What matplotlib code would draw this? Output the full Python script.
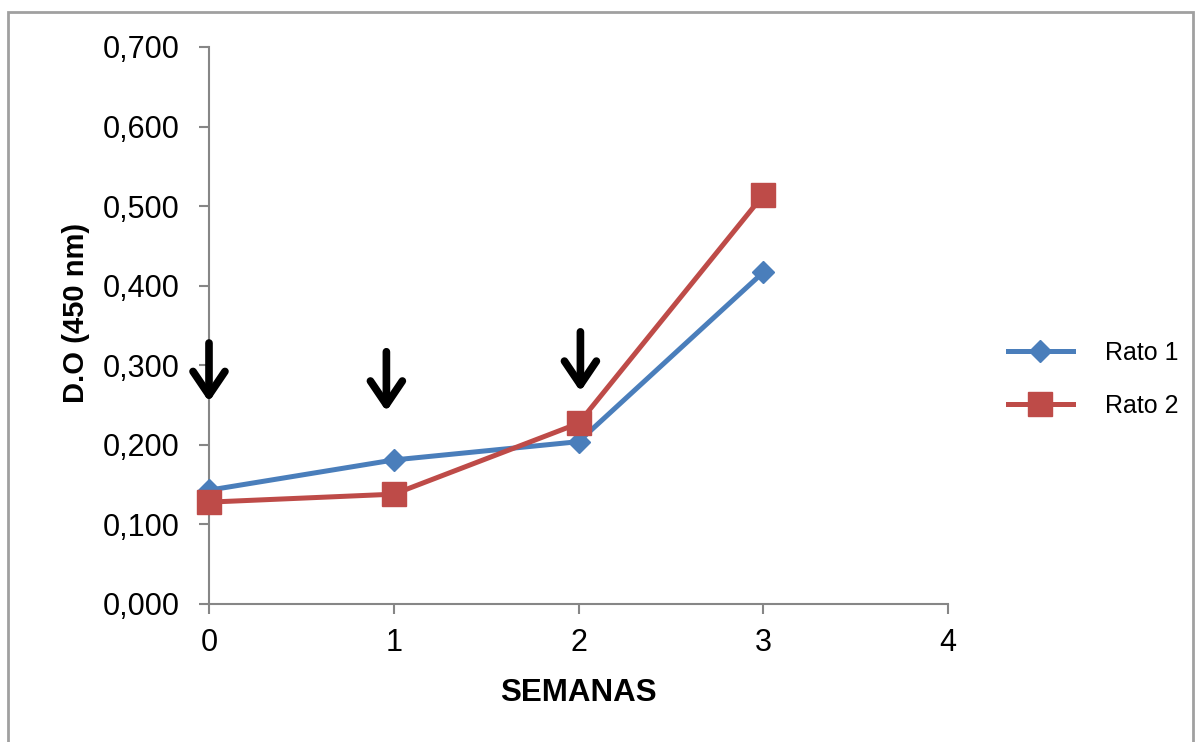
import matplotlib.pyplot as plt
from matplotlib.patches import Rectangle
from matplotlib.ticker import FuncFormatter

# optical density per week for each animal
semanas = [0, 1, 2, 3]
rato1 = [0.143, 0.181, 0.204, 0.417]
rato2 = [0.128, 0.138, 0.227, 0.514]

# weeks marked with an arrow, and the arrow ends (D.O units)
arrow_x = [0, 0.96, 2.01]
arrow_top = [0.328, 0.317, 0.342]
arrow_tip = [0.254, 0.242, 0.267]

plt.rcParams['font.family'] = ['Liberation Sans', 'DejaVu Sans']

fig = plt.figure(figsize=(11.97, 7.42), dpi=100)
ax = fig.add_axes([0.1746, 0.186, 0.6175, 0.7507])

line1, = ax.plot(semanas, rato1, '-', color='#4a7ebb', linewidth=3.6,
                 marker='D', markersize=11.5, label='Rato 1', clip_on=False, zorder=3)
line2, = ax.plot(semanas, rato2, '-', color='#be4b48', linewidth=3.6,
                 marker='s', markersize=17, label='Rato 2', clip_on=False, zorder=4)

for x, y0, y1 in zip(arrow_x, arrow_top, arrow_tip):
    ax.annotate('', xy=(x, y1), xytext=(x, y0),
                arrowprops=dict(arrowstyle='->,head_length=1.7,head_width=1.15',
                                color='black', lw=5.5, shrinkA=0, shrinkB=0),
                annotation_clip=False)

ax.set_xlim(0, 4)
ax.set_ylim(0, 0.7)
ax.set_xticks([0, 1, 2, 3, 4])
ax.set_yticks([0.1 * i for i in range(8)])
ax.yaxis.set_major_formatter(FuncFormatter(lambda v, p: f'{v:.3f}'.replace('.', ',')))

for s in ['top', 'right']:
    ax.spines[s].set_visible(False)
for s in ['left', 'bottom']:
    ax.spines[s].set_color('#868686')
    ax.spines[s].set_linewidth(1.5)
ax.tick_params(axis='both', colors='#868686', labelcolor='black', width=1.5,
               length=7, labelsize=22)
ax.tick_params(axis='y', pad=14)
ax.tick_params(axis='x', pad=10)

ax.set_xlabel('SEMANAS', fontsize=22.5, fontweight='bold', labelpad=15)
ax.set_ylabel('D.O (450 nm)', fontsize=21, fontweight='bold', labelpad=9, y=0.522)

fig.legend(handles=[line1, line2], loc='center left',
           bbox_to_anchor=(0.823, 0.489), frameon=False, fontsize=18,
           handlelength=2.6, handletextpad=1.3, labelspacing=1.15)

# outer frame around the chart area
fig.patches.append(Rectangle((0.007, -0.02), 0.99, 1.004, transform=fig.transFigure,
                             fill=False, edgecolor='#a0a0a0', linewidth=2))

fig.savefig('out.png', dpi=100)
